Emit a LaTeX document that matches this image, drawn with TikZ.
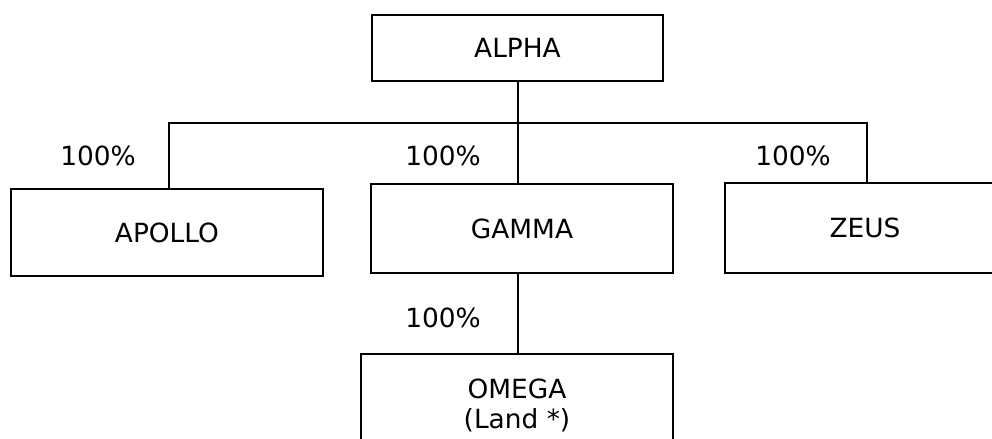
\documentclass[tikz,border=0pt]{standalone}
\usepackage{fontspec}
\setmainfont{DejaVu Sans}
\begin{document}
\begin{tikzpicture}[x=1bp,y=-1bp,
  box/.style={draw=black,line width=1.6bp,fill=white,inner sep=0pt,align=center,
    font=\fontsize{26.5}{30}\selectfont},
  pct/.style={inner sep=0pt,font=\fontsize{26.5}{30}\selectfont},
  conn/.style={draw=black,line width=1.6bp}]
\clip (0,0) rectangle (992,439);
\fill[white] (0,0) rectangle (992,439);
\node[box,minimum width=291bp,minimum height=66bp] (alpha) at (517.5,48) {ALPHA};
\node[box,minimum width=312bp,minimum height=87bp] (apollo) at (167,232.5) {APOLLO};
\node[box,minimum width=302bp,minimum height=89bp] (gamma) at (522,228.5) {GAMMA};
\node[box,minimum width=280bp,minimum height=90bp] (zeus) at (865,228) {ZEUS};
\node[box,minimum width=312bp,minimum height=102bp] (omega) at (517,405) {OMEGA\\(Land *)};
\coordinate (bl) at (169,123);
\coordinate (br) at (867,123);
\coordinate (mid) at (518,123);
\draw[conn] (bl |- apollo.north) -- (bl) -- (br) -- (br |- zeus.north);
\draw[conn] (mid |- alpha.south) -- (mid) -- (mid |- gamma.north);
\draw[conn] (mid |- gamma.south) -- (mid |- omega.north);
\node[pct] (p1) at (98,156) {100\%};
\node[pct] (p2) at (443,156) {100\%};
\node[pct] (p3) at (793,156) {100\%};
\node[pct] (p4) at (443,318) {100\%};
\end{tikzpicture}
\end{document}
